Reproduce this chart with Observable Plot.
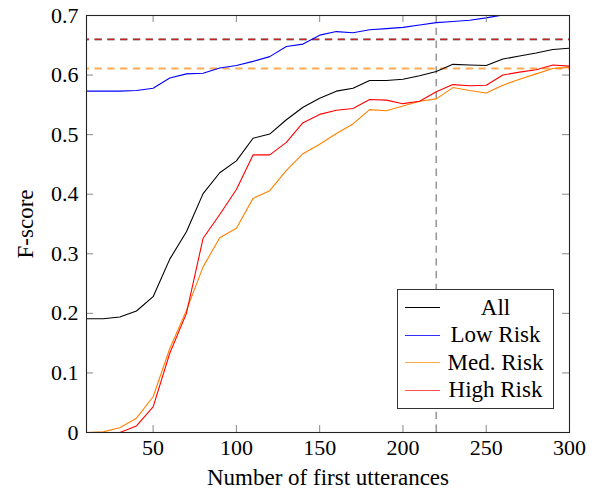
<!DOCTYPE html>
<html>
<head>
<meta charset="utf-8">
<script src="https://cdn.jsdelivr.net/npm/d3@7"></script>
<script src="https://cdn.jsdelivr.net/npm/@observablehq/plot@0.6"></script>
<style>
  html, body { margin: 0; padding: 0; background: #fff; }
  #wrap { position: relative; width: 594px; height: 490px; font-family: 'Liberation Serif', 'Times New Roman', serif; }
  #wrap svg, #wrap svg text { font-family: 'Liberation Serif', 'Times New Roman', serif !important; }
  #legend { position: absolute; left: 397px; top: 289px; width: 157px; height: 120px; border: 1px solid #333; background: #fff; box-sizing: border-box; padding-top: 4px; font-family: 'Liberation Serif', 'Times New Roman', serif; }
  .row { display: flex; align-items: center; height: 27.5px; font-size: 23px; color: #000; }
  .sw { width: 35px; height: 0; border-top: 1.3px solid; margin-left: 7px; }
  .lab { flex: 1; text-align: center; padding-right: 2px; }
</style>
</head>
<body>
<div id="wrap"></div>
<script>
// ---- data ----
const utterances = [10, 20, 30, 40, 50, 60, 70, 80, 90, 100, 110, 120, 130, 140, 150, 160, 170, 180, 190, 200, 210, 220, 230, 240, 250, 260, 270, 280, 290, 300];
const allScores  = [0.191, 0.191, 0.194, 0.204, 0.228, 0.291, 0.337, 0.401, 0.436, 0.456, 0.494, 0.501, 0.525, 0.546, 0.561, 0.573, 0.578, 0.591, 0.591, 0.593, 0.599, 0.606, 0.618, 0.617, 0.616, 0.627, 0.632, 0.637, 0.643, 0.645];
const lowRisk    = [0.573, 0.573, 0.573, 0.574, 0.578, 0.595, 0.602, 0.603, 0.612, 0.616, 0.623, 0.631, 0.648, 0.652, 0.667, 0.673, 0.671, 0.676, 0.678, 0.680, 0.684, 0.688, 0.690, 0.692, 0.696, 0.701, 0.705, 0.709, 0.713, 0.716];
const medRisk    = [0, 0.001, 0.008, 0.024, 0.060, 0.141, 0.205, 0.278, 0.327, 0.343, 0.393, 0.406, 0.440, 0.468, 0.484, 0.502, 0.518, 0.542, 0.540, 0.548, 0.556, 0.560, 0.579, 0.574, 0.570, 0.583, 0.593, 0.602, 0.611, 0.613];
const highRisk   = [0, 0, 0, 0.011, 0.043, 0.133, 0.200, 0.326, 0.366, 0.408, 0.466, 0.466, 0.487, 0.520, 0.534, 0.541, 0.544, 0.559, 0.558, 0.552, 0.556, 0.572, 0.584, 0.582, 0.583, 0.600, 0.605, 0.609, 0.617, 0.615];
const allRef  = 0.66;   // grey dashed
const highRef = 0.66;   // red dashed (drawn over the grey one)
const medRef  = 0.611;  // orange dashed
const cutoffX = 220;    // vertical dashed
const xTicks = [50, 100, 150, 200, 250, 300];
const yTicks = [0, 0.1, 0.2, 0.3, 0.4, 0.5, 0.6, 0.7];
const seriesNames = ["All", "Low Risk", "Med. Risk", "High Risk"];
const seriesColors = ["#000000", "#0000ff", "#ff8000", "#ff0000"];
const legendColors = ["#000000", "#3030ff", "#ffa850", "#ff5050"];

// ---- layout ----
const W = 594, H = 490;
const mTop = 15, mRight = 25, mBottom = 58, mLeft = 86;
const fw = W - mLeft - mRight, fh = H - mTop - mBottom;
const tickLen = 7;
const dash = "7.3,5.5";
const serif = "'Liberation Serif', 'Times New Roman', serif";

const seriesValues = [allScores, lowRisk, medRisk, highRisk];
const rows = [];
seriesNames.forEach((name, i) => utterances.forEach((u, j) => rows.push({series: name, x: u, y: seriesValues[i][j]})));

const chart = Plot.plot({
  width: W, height: H,
  marginTop: mTop, marginRight: mRight, marginBottom: mBottom, marginLeft: mLeft,
  style: {fontFamily: serif, fontSize: "22px", color: "#000", background: "#fff"},
  x: {domain: [10, 300], ticks: xTicks, tickSize: 0, tickPadding: 7, label: null},
  y: {domain: [0, 0.7], ticks: yTicks, tickSize: 0, tickPadding: 8, label: null, tickFormat: d => d3.format("")(+d.toFixed(1))},
  color: {domain: seriesNames, range: seriesColors},
  marks: [
    // reference lines
    Plot.ruleY([allRef], {stroke: "#8a8a8a", strokeWidth: 2.4, strokeDasharray: dash, strokeDashoffset: 4.3}),
    Plot.ruleY([highRef], {stroke: "#e00000", strokeWidth: 0.9, strokeDasharray: dash, strokeDashoffset: 4.3}),
    Plot.ruleY([medRef], {stroke: "#ffaa55", strokeWidth: 2, strokeDasharray: dash, strokeDashoffset: 4.3}),
    Plot.ruleX([cutoffX], {stroke: "#999", strokeWidth: 1.6, strokeDasharray: dash}),
    // series
    Plot.line(rows, {x: "x", y: "y", z: "series", stroke: "series", strokeWidth: 1.1, clip: true}),
    // inward ticks (bottom/top, left/right)
    Plot.ruleX(xTicks, {stroke: "#888", insetTop: fh - tickLen}),
    Plot.ruleX(xTicks, {stroke: "#888", insetBottom: fh - tickLen}),
    Plot.ruleY(yTicks, {stroke: "#888", insetRight: fw - tickLen}),
    Plot.ruleY(yTicks, {stroke: "#888", insetLeft: fw - tickLen}),
    Plot.frame({stroke: "#222", strokeWidth: 1.1}),
    // axis titles
    Plot.text(["Number of first utterances"], {frameAnchor: "bottom", textAnchor: "middle", lineAnchor: "middle", dy: 45, fontSize: 23, fontFamily: serif}),
    Plot.text(["F-score"], {frameAnchor: "left", textAnchor: "middle", lineAnchor: "middle", dx: -61, rotate: -90, fontSize: 23, fontFamily: serif})
  ]
});

const wrap = document.getElementById("wrap");
wrap.appendChild(chart);

const legend = document.createElement("div");
legend.id = "legend";
seriesNames.forEach((name, i) => {
  const r = document.createElement("div");
  r.className = "row";
  const sw = document.createElement("div");
  sw.className = "sw";
  sw.style.borderTopColor = legendColors[i];
  const lab = document.createElement("div");
  lab.className = "lab";
  lab.textContent = name;
  r.appendChild(sw); r.appendChild(lab);
  legend.appendChild(r);
});
wrap.appendChild(legend);
</script>
</body>
</html>
